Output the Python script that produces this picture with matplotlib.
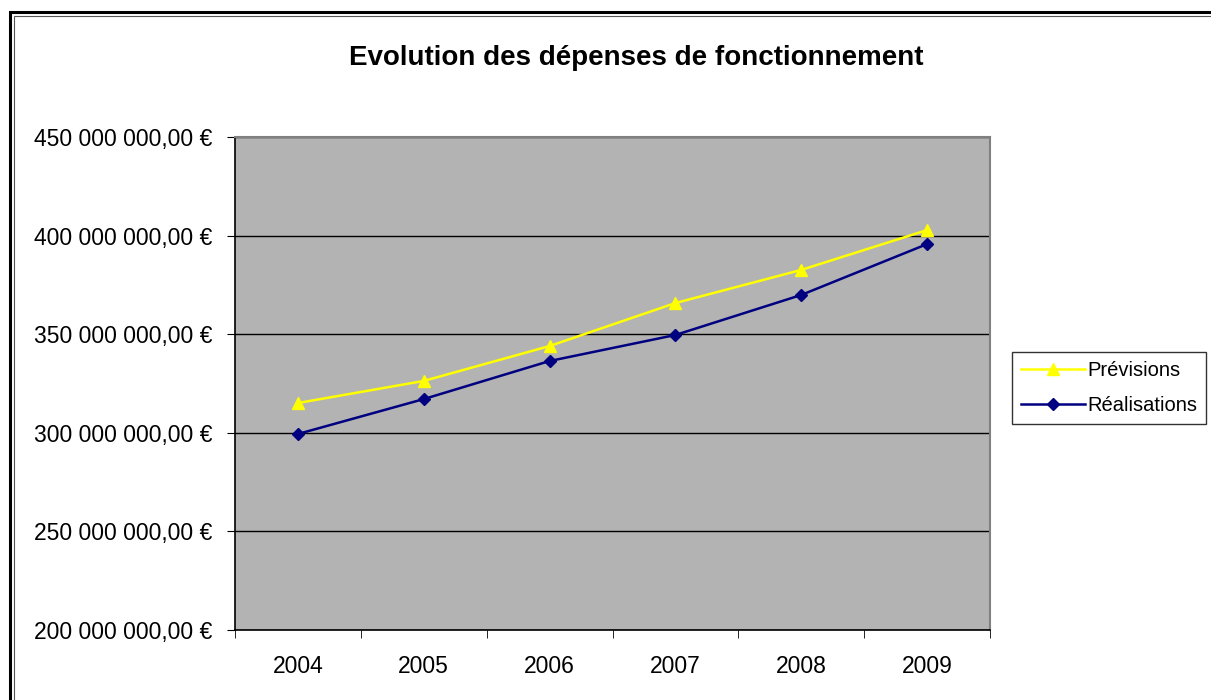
import matplotlib.pyplot as plt
import matplotlib.ticker as mticker
from matplotlib.patches import Rectangle
import numpy as np

plt.rcParams['font.family'] = ['Liberation Sans', 'DejaVu Sans']

years = ['2004', '2005', '2006', '2007', '2008', '2009']
previsions = [315.1e6, 326.3e6, 344.0e6, 365.8e6, 382.6e6, 402.8e6]
realisations = [299.4e6, 317.1e6, 336.4e6, 349.6e6, 369.9e6, 395.7e6]


def euro_fmt(v, pos):
    s = f'{v:,.2f}'.replace(',', ' ').replace('.', ',')
    return s + ' €'


fig = plt.figure(figsize=(12.11, 7.0), dpi=100)
fig.patches.append(Rectangle((10 / 1211, -0.01), 1.2, 1 - 12 / 700 + 0.01,
                             transform=fig.transFigure, fill=False,
                             edgecolor='black', linewidth=2.2))
fig.patches.append(Rectangle((14 / 1211, -0.01), 1.2, 1 - 16 / 700 + 0.01,
                             transform=fig.transFigure, fill=False,
                             edgecolor='#555555', linewidth=0.8))

ax = fig.add_axes([235 / 1211, 1 - 630 / 700, 755 / 1211, 493 / 700])
ax.set_facecolor('#b3b3b3')

x = np.arange(len(years))
ax.plot(x, previsions, color='#ffff00', marker='^', markersize=9,
        linewidth=1.8, label='Prévisions')
ax.plot(x, realisations, color='#000080', marker='D', markersize=6.5,
        linewidth=1.8, label='Réalisations')

ax.set_xlim(-0.5, len(years) - 0.5)
ax.set_ylim(200e6, 450e6)
ax.set_yticks(np.arange(200e6, 450e6 + 1, 50e6))
ax.yaxis.set_major_formatter(mticker.FuncFormatter(euro_fmt))
ax.grid(axis='y', color='black', linewidth=1)
ax.set_axisbelow(True)

ax.set_xticks(x)
ax.set_xticklabels(years)
ax.set_xticks(np.arange(-0.5, len(years)), minor=True)
ax.tick_params(axis='x', which='major', length=0, pad=18, labelsize=16.5)
ax.tick_params(axis='x', which='minor', length=6, direction='out')
ax.tick_params(axis='y', length=6, direction='out', labelsize=16.5, pad=10)

for s in ['top', 'right']:
    ax.spines[s].set_color('#808080')
    ax.spines[s].set_linewidth(1.5)
for s in ['left', 'bottom']:
    ax.spines[s].set_color('black')
    ax.spines[s].set_linewidth(1.2)

fig.text(636 / 1211, 1 - 58 / 700, 'Evolution des dépenses de fonctionnement',
         ha='center', va='center', fontsize=20, fontweight='bold')

leg = fig.legend(loc='center', bbox_to_anchor=(1109 / 1211, 1 - 388 / 700),
                 fontsize=14.5, frameon=True, fancybox=False, edgecolor='black',
                 handlelength=3.2, handletextpad=0.1, borderpad=0.45,
                 labelspacing=0.8, borderaxespad=0)
leg.get_frame().set_linewidth(1)

fig.savefig('out.png', dpi=100)
